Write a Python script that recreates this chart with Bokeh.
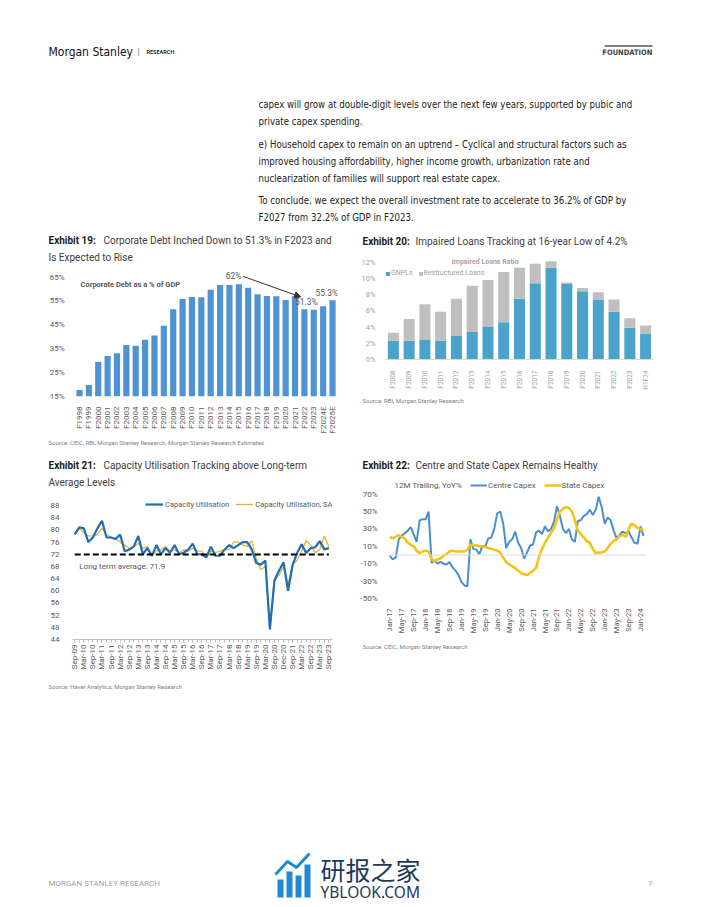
import numpy as np
from bokeh.plotting import figure
from bokeh.layouts import column, row
from bokeh.models import (Range1d, FixedTicker, Label, Span, Legend, LegendItem,
                          Arrow, NormalHead, ColumnDataSource)
from bokeh.core.properties import value
from bokeh.embed import file_html
from bokeh.resources import INLINE

# ---------------- Exhibit 19 data ----------------
debt_years = ["F1998", "F1999", "F2000", "F2001", "F2002", "F2003", "F2004", "F2005",
              "F2006", "F2007", "F2008", "F2009", "F2010", "F2011", "F2012", "F2013",
              "F2014", "F2015", "F2016", "F2017", "F2018", "F2019", "F2020", "F2021",
              "F2022", "F2023", "F2024E", "F2025E"]
debt_pct = [17.7, 19.8, 29.4, 32.0, 33.1, 36.6, 36.2, 38.8, 40.5, 44.6,
            51.5, 55.8, 56.7, 56.6, 59.7, 61.7, 61.7, 62.0, 60.5, 57.8,
            57.1, 57.0, 55.4, 57.0, 51.5, 51.3, 52.8, 55.3]
debt_yticks = [15, 25, 35, 45, 55, 65]
debt_ytick_labels = ["15%", "25%", "35%", "45%", "55%", "65%"]

# ---------------- Exhibit 20 data ----------------
npl_years = ["F2008", "F2009", "F2010", "F2011", "F2012", "F2013", "F2014", "F2015",
             "F2016", "F2017", "F2018", "F2019", "F2020", "F2021", "F2022", "F2023", "H1F24"]
gnpl_pct = [2.3, 2.3, 2.4, 2.3, 2.9, 3.4, 4.0, 4.6, 7.5, 9.4, 11.3, 9.3, 8.4, 7.4, 5.9, 3.9, 3.2]
restructured_pct = [1.0, 2.7, 4.4, 3.6, 4.6, 5.7, 5.8, 6.2, 3.8, 2.4, 0.8, 0.2, 0.4, 0.9, 1.5, 1.2, 1.0]
npl_yticks = [0, 2, 4, 6, 8, 10, 12]
npl_ytick_labels = ["0%", "2%", "4%", "6%", "8%", "10%", "12%"]

# ---------------- Exhibit 21 data (quarterly, Sep-09 .. Sep-23) ----------------
cu_tick_labels = ["Sep-09", "Mar-10", "Sep-10", "Mar-11", "Sep-11", "Mar-12", "Sep-12",
                  "Mar-13", "Sep-13", "Mar-14", "Sep-14", "Mar-15", "Sep-15", "Mar-16",
                  "Sep-16", "Mar-17", "Sep-17", "Mar-18", "Sep-18", "Mar-19", "Sep-19",
                  "Mar-20", "Sep-20", "Dec-20", "Sep-21", "Mar-22", "Sep-22", "Mar-23", "Sep-23"]
cu_util = [78.5, 80.8, 80.5, 76.0, 77.5, 80.5, 83.0, 77.5, 77.5, 77.0,
           78.5, 73.0, 73.5, 74.5, 78.0, 72.0, 74.0, 71.5, 75.0, 72.0,
           74.0, 72.5, 75.0, 72.0, 72.5, 73.5, 75.5, 72.0, 72.0, 71.0,
           74.5, 71.5, 71.5, 73.5, 75.0, 74.0, 75.0, 76.0, 76.0, 73.6,
           69.1, 68.6, 69.9, 47.3, 63.3, 66.6, 69.4, 60.0, 68.4, 72.4,
           75.3, 72.4, 74.0, 74.3, 76.3, 73.6, 74.0]
cu_util_sa = [78.5, 80.5, 79.0, 78.0, 78.0, 78.5, 80.5, 78.5, 77.5, 77.0,
              76.0, 75.0, 74.0, 74.5, 75.5, 74.0, 74.5, 71.5, 73.0, 73.5,
              74.5, 73.0, 73.5, 72.5, 73.5, 73.0, 74.0, 73.0, 73.0, 70.8,
              73.0, 72.5, 73.0, 73.5, 73.5, 76.0, 76.0, 75.0, 74.5, 76.5,
              70.5, 67.0, 68.0, 49.5, 64.0, 65.0, 68.0, 62.0, 68.5, 70.0,
              73.0, 76.5, 75.0, 72.5, 73.5, 78.0, 74.5]
cu_long_term_avg = 71.9
cu_yticks = [44, 48, 52, 56, 60, 64, 68, 72, 76, 80, 84, 88]

# ---------------- Exhibit 22 data (monthly, Jan-17 .. Feb-24) ----------------
capex_tick_labels = ["Jan-17", "May-17", "Sep-17", "Jan-18", "May-18", "Sep-18", "Jan-19",
                     "May-19", "Sep-19", "Jan-20", "May-20", "Sep-20", "Jan-21", "May-21",
                     "Sep-21", "Jan-22", "May-22", "Sep-22", "Jan-23", "May-23", "Sep-23", "Jan-24"]
centre_capex = [-1, -5, -3, 18, 22, 25, 28, 32, 24, 15,
                40, 41, 41, 50, -9, -6, -10, -8, -10, -11,
                -8, -14, -18, -23, -31, -35, -36, 18, 7, 6,
                1, 10, 10, 19, 20, 30, 48, 50, 36, 8,
                15, 18, 27, 14, 8, -4, 3, 11, 12, 26,
                28, 24, 33, 27, 30, 38, 56, 45, 30, 25,
                30, 18, 15, 39, 40, 45, 47, 52, 46, 52,
                67, 55, 36, 43, 40, 28, 19, 23, 27, 25,
                27, 20, 14, 13, 33, 22]
state_capex = [21, 19, 21, 23, 21, 19, 14, 12, 10, 5,
               2, 4, 5, 4, -5, -7, -5, -4, -1, 1,
               4, 5, 4, 4, 4, 4, 6, 12, 11, 11,
               10, 10, 9, 8, 7, 6, 5, 3, -3, -8,
               -11, -13, -15, -18, -21, -22, -23, -21, -18, -15,
               -2, 7, 14, 20, 25, 31, 41, 50, 53, 55,
               54, 50, 40, 28, 24, 20, 16, 14, 7, 2,
               3, 3, 4, 8, 13, 16, 18, 22, 23, 21,
               30, 36, 34, 31, 30, 28]
capex_yticks = [-50, -30, -10, 10, 30, 50, 70]
capex_ytick_labels = ["-50%", "-30%", "-10%", "10%", "30%", "50%", "70%"]

# ---------------- page texts ----------------
body_lines = [
    "capex will grow at double-digit levels over the next few years, supported by pubic and",
    "private capex spending.",
    "e) Household capex to remain on an uptrend \u2013 Cyclical and structural factors such as",
    "improved housing affordability, higher income growth, urbanization rate and",
    "nuclearization of families will support real estate capex.",
    "To conclude, we expect the overall investment rate to accelerate to 36.2% of GDP by",
    "F2027 from 32.2% of GDP in F2023.",
]
body_y = [104, 121, 144, 161, 178, 199.5, 216.5]

TXT = "#404040"
GRAY = "#595959"
SRC = "#808080"
BODY_FONT = "DejaVu Sans Condensed"


def geo(box, frame, xr, yr):
    return dict(box=box, frame=frame, xr=xr, yr=yr)


def chart(g):
    bx, by, bw, bh = g["box"]
    fl, ft, fr, fb = g["frame"]
    p = figure(width=bw, height=bh, x_range=Range1d(*g["xr"]), y_range=Range1d(*g["yr"]),
               output_backend="svg", toolbar_location=None, frame_align=False,
               min_border_left=fl - bx, min_border_right=bx + bw - fr,
               min_border_top=ft - by, min_border_bottom=by + bh - fb)
    p.outline_line_color = None
    p.grid.visible = False
    p.border_fill_color = "white"
    p.background_fill_color = "white"
    for ax in (p.xaxis[0], p.yaxis[0]):
        ax.axis_line_color = None
        ax.major_tick_line_color = None
        ax.minor_tick_line_color = None
        ax.major_label_text_font = "Roboto"
        ax.major_label_text_color = GRAY
    return p


def to_data(g, px, py):
    fl, ft, fr, fb = g["frame"]
    x0, x1 = g["xr"]
    y0, y1 = g["yr"]
    return (x0 + (px - fl) / (fr - fl) * (x1 - x0), y1 - (py - ft) / (fb - ft) * (y1 - y0))


def add_text(p, g, px, py, text, size, color=GRAY, style="normal", align="left", font="Roboto"):
    x, y = to_data(g, px, py)
    p.add_layout(Label(x=x, y=y, text=text, text_font=font, text_font_size=f"{size}px",
                       text_color=color, text_font_style=style, text_align=align,
                       text_baseline="middle"))


def band(box):
    """A blank strip of the page whose coordinates are page pixels."""
    bx, by, bw, bh = box
    p = figure(width=bw, height=bh, x_range=Range1d(bx, bx + bw), y_range=Range1d(by + bh, by),
               output_backend="svg", toolbar_location=None, min_border=0, frame_align=False,
               x_axis_location=None, y_axis_location=None)
    p.outline_line_color = None
    p.grid.visible = False
    p.border_fill_color = "white"
    p.background_fill_color = "white"
    g = geo(box, (bx, by, bx + bw, by + bh), (bx, bx + bw), (by + bh, by))
    return p, g


def title_band(box, px, py, num, text, text_x, second=None):
    p, g = band(box)
    add_text(p, g, px, py, f"Exhibit {num}:", 10, color="#1a1a1a", style="bold")
    add_text(p, g, text_x, py, text, 10, color=TXT)
    if second:
        add_text(p, g, px, py + 16.5, second, 10, color=TXT)
    return p


def source_band(box, px, py, text):
    p, g = band(box)
    add_text(p, g, px, py, text, 6, color=SRC)
    return p


# ================= Header =================
hdr, ghdr = band((0, 0, 702, 228))
hdr.text(x=[48], y=[51], text=["Morgan Stanley"], text_font=value(BODY_FONT),
         text_font_size=value("12px"), text_color="#111111", text_baseline="middle")
hdr.text(x=[137], y=[51], text=["|"], text_font=value("Roboto"),
         text_font_size=value("9px"), text_color="#777777", text_baseline="middle")
hdr.text(x=[146], y=[51.5], text=["RESEARCH"], text_font=value("Roboto"),
         text_font_size=value("5.5px"), text_font_style="bold", text_color="#333333",
         text_baseline="middle")
hdr.segment(x0=[604], y0=[45.5], x1=[652], y1=[45.5], line_color="#555555", line_width=1.5)
hdr.text(x=[652], y=[52], text=["FOUNDATION"], text_font=value(BODY_FONT),
         text_font_size=value("7.5px"), text_font_style="bold", text_color="#444444",
         text_baseline="middle", text_align="right")
body_src = ColumnDataSource(dict(x=[258] * len(body_lines), y=body_y, text=body_lines))
hdr.text(x="x", y="y", text="text", source=body_src, text_font=value(BODY_FONT),
         text_font_size=value("9.6px"), text_color="#222222", text_baseline="middle")

# ================= Exhibit 19 =================
t19 = title_band((0, 228, 352, 35), 48, 240, 19,
                 "Corporate Debt Inched Down to 51.3% in F2023 and", 103, "Is Expected to Rise")
g19 = geo((0, 263, 352, 173), (73, 263, 337, 400), (-0.64, 27.53), (15, 70.69))
p19 = chart(g19)
idx19 = list(range(len(debt_years)))
p19.vbar(x=idx19, top=debt_pct, bottom=15, width=0.66, fill_color="#4f93d2", line_color=None)
p19.xaxis.ticker = FixedTicker(ticks=idx19)
p19.xaxis.major_label_overrides = {i: debt_years[i] for i in idx19}
p19.xaxis.major_label_orientation = np.pi / 2
p19.xaxis.major_label_text_font_size = "8px"
p19.xaxis.major_label_standoff = 4
p19.yaxis.ticker = FixedTicker(ticks=debt_yticks)
p19.yaxis.major_label_overrides = dict(zip(debt_yticks, debt_ytick_labels))
p19.yaxis.major_label_text_font_size = "8px"
p19.yaxis.major_label_standoff = 3
add_text(p19, g19, 80, 284.5, "Corporate Debt as a % of GDP", 7.5, style="bold")
i_peak = int(np.argmax(debt_pct))
i_22 = debt_years.index("F2022")
i_23 = debt_years.index("F2023")
i_25 = debt_years.index("F2025E")
for xi, yi, dy, fmt in ((i_peak - 0.55, i_peak, 3.6, "{:.0f}%"),
                        (i_23 - 0.8, i_23, 3.4, "{:.1f}%"),
                        (i_25 - 0.6, i_25, 3.2, "{:.1f}%")):
    v = debt_pct[yi]
    p19.add_layout(Label(x=xi, y=v + dy, text=fmt.format(v), text_font="Roboto",
                         text_font_size="8.5px", text_color=GRAY, text_align="center",
                         text_baseline="middle"))
p19.add_layout(Arrow(end=NormalHead(size=6, fill_color="#333333", line_color="#333333"),
                     x_start=i_peak + 0.45, y_start=debt_pct[i_peak] + 3.3,
                     x_end=i_22 - 0.4, y_end=debt_pct[i_22] + 5.2,
                     line_color="#333333", line_width=1))
s19 = source_band((0, 436, 352, 16), 48, 441.5,
                  "Source: CEIC, RBI, Morgan Stanley Research, Morgan Stanley Research Estimates")

# ================= Exhibit 20 =================
t20 = title_band((352, 228, 350, 24), 362, 241, 20,
                 "Impaired Loans Tracking at 16-year Low of 4.2%", 415)
g20 = geo((352, 252, 350, 140), (385, 252, 653, 362), (-0.5, 16.5), (0, 13.19))
p20 = chart(g20)
idx20 = list(range(len(npl_years)))
src20 = ColumnDataSource(dict(x=idx20, gnpl=gnpl_pct, restr=restructured_pct))
rs20 = p20.vbar_stack(["gnpl", "restr"], x="x", width=0.7, source=src20,
                      fill_color=["#4ba3cb", "#bfbfbf"], line_color=None)
p20.xaxis.axis_line_color = "#d9d9d9"
p20.xaxis.ticker = FixedTicker(ticks=idx20)
p20.xaxis.major_label_overrides = {i: npl_years[i] for i in idx20}
p20.xaxis.major_label_orientation = np.pi / 2
p20.xaxis.major_label_text_font_size = "6.5px"
p20.xaxis.major_label_text_color = "#a0a0a0"
p20.xaxis.major_label_standoff = 5
p20.yaxis.ticker = FixedTicker(ticks=npl_yticks)
p20.yaxis.major_label_overrides = dict(zip(npl_yticks, npl_ytick_labels))
p20.yaxis.major_label_text_font_size = "7.5px"
p20.yaxis.major_label_text_color = "#a0a0a0"
p20.yaxis.major_label_standoff = 4
leg20 = Legend(items=[LegendItem(label="GNPLs", renderers=[rs20[0]]),
                      LegendItem(label="Restructured Loans", renderers=[rs20[1]])],
               orientation="horizontal", location=(0, 82), padding=0, margin=0, spacing=5,
               glyph_width=5, glyph_height=5, label_height=8, label_standoff=1,
               label_text_font="Roboto", label_text_font_size="7px", label_text_color="#a0a0a0",
               border_line_color=None, background_fill_alpha=0)
p20.add_layout(leg20)
add_text(p20, g20, 484.7, 262, "Impaired Loans Ratio", 7, color="#a6a6a6", style="bold", align="center")
s20 = source_band((352, 392, 350, 60), 362, 400, "Source: RBI, Morgan Stanley Research")

# ================= Exhibit 21 =================
t21 = title_band((0, 452, 352, 38), 48, 465, 21,
                 "Capacity Utilisation Tracking above Long-term", 103, "Average Levels")
g21 = geo((0, 490, 352, 186), (72, 490, 332, 639), (-0.5, 56.8), (44, 92.93))
p21 = chart(g21)
idx21 = list(range(len(cu_util)))
r_sa = p21.line(idx21, cu_util_sa, line_color="#e6b437", line_width=1.3)
r_cu = p21.line(idx21, cu_util, line_color="#1f6db4", line_width=2.2)
p21.line([idx21[0], idx21[-1]], [cu_long_term_avg, cu_long_term_avg], line_color="black",
         line_width=2, line_dash="6 3")
label_idx21 = idx21[::2]
p21.xaxis.ticker = FixedTicker(ticks=label_idx21, minor_ticks=idx21)
p21.xaxis.major_label_overrides = {i: lab for i, lab in zip(label_idx21, cu_tick_labels)}
p21.xaxis.major_label_orientation = np.pi / 2
p21.xaxis.major_label_text_font_size = "8px"
p21.xaxis.major_label_standoff = 2
p21.xaxis.axis_line_color = "#bfbfbf"
p21.xaxis.major_tick_line_color = "#bfbfbf"
p21.xaxis.minor_tick_line_color = "#bfbfbf"
p21.xaxis.major_tick_in = 0
p21.xaxis.major_tick_out = 3
p21.xaxis.minor_tick_in = 0
p21.xaxis.minor_tick_out = 3
p21.yaxis.ticker = FixedTicker(ticks=cu_yticks)
p21.yaxis.major_label_text_font_size = "8px"
p21.yaxis.major_label_standoff = 7
leg21 = Legend(items=[LegendItem(label="Capacity Utilisation", renderers=[r_cu]),
                      LegendItem(label="Capacity Utilisation, SA", renderers=[r_sa])],
               orientation="horizontal", location=(73, 130), padding=0, margin=0, spacing=6,
               glyph_width=18, glyph_height=10, label_height=10, label_standoff=2,
               label_text_font="Roboto", label_text_font_size="7.5px", label_text_color=GRAY,
               border_line_color=None, background_fill_alpha=0)
p21.add_layout(leg21)
p21.add_layout(Label(x=idx21[1], y=cu_long_term_avg - 3.9, text=f"Long term average: {cu_long_term_avg}",
                     text_font="Roboto", text_font_size="8px", text_color=GRAY,
                     text_baseline="middle"))
s21 = source_band((0, 676, 352, 24), 48, 685.5, "Source: Haver Analytics, Morgan Stanley Research")

# ================= Exhibit 22 =================
t22 = title_band((352, 452, 350, 24), 362, 465, 22, "Centre and State Capex Remains Healthy", 415)
g22 = geo((352, 476, 350, 160), (386, 476, 646, 601), (-1.1, 86), (-50, 90.24))
p22 = chart(g22)
idx22 = list(range(len(centre_capex)))
p22.add_layout(Span(location=0, dimension="width", line_color="#d9d9d9", line_width=1))
r_c = p22.line(idx22, centre_capex, line_color="#4a8fd0", line_width=2)
r_s = p22.line(idx22, state_capex, line_color="#f7c10f", line_width=2.5)
label_idx22 = idx22[::4][:len(capex_tick_labels)]
p22.xaxis.ticker = FixedTicker(ticks=label_idx22)
p22.xaxis.major_label_overrides = {i: lab for i, lab in zip(label_idx22, capex_tick_labels)}
p22.xaxis.major_label_orientation = np.pi / 2
p22.xaxis.major_label_text_font_size = "7.5px"
p22.xaxis.major_label_standoff = 4
p22.yaxis.ticker = FixedTicker(ticks=capex_yticks)
p22.yaxis.major_label_overrides = dict(zip(capex_yticks, capex_ytick_labels))
p22.yaxis.major_label_text_font_size = "8px"
p22.yaxis.major_label_standoff = 3
leg22 = Legend(items=[LegendItem(label="Centre Capex", renderers=[r_c]),
                      LegendItem(label="State Capex", renderers=[r_s])],
               orientation="horizontal", location=(84, 108), padding=0, margin=0, spacing=8,
               glyph_width=17, glyph_height=10, label_height=10, label_standoff=1,
               label_text_font="Roboto", label_text_font_size="8px", label_text_color=GRAY,
               border_line_color=None, background_fill_alpha=0)
p22.add_layout(leg22)
add_text(p22, g22, 394, 485, "12M Trailing, YoY%", 8, color=GRAY)
s22 = source_band((352, 636, 350, 64), 362, 645.5, "Source: CEIC, Morgan Stanley Research")

# ================= Footer =================
ftr, gftr = band((0, 700, 702, 207))
ftr.text(x=[48], y=[883], text=["MORGAN STANLEY RESEARCH"], text_font=value("Roboto"),
         text_font_size=value("8px"), text_color="#a0a0a0", text_baseline="middle")
ftr.text(x=[652], y=[883], text=["7"], text_font=value("Roboto"),
         text_font_size=value("8px"), text_color="#a0a0a0", text_baseline="middle",
         text_align="right")
ftr.quad(left=[277, 286, 295, 304], right=[283, 292, 301, 310], top=[879, 871, 875, 864],
         bottom=[897, 897, 897, 897], fill_color="#1f8ad2", line_color=None)
ftr.line(x=[275, 287, 296, 309], y=[874, 861, 867, 853], line_color="#1f8ad2", line_width=3)
ftr.text(x=[320], y=[868], text=["\u7814\u62a5\u4e4b\u5bb6"], text_font=value("Noto Sans CJK SC"),
         text_font_size=value("25px"), text_color="#1d3a5c", text_baseline="middle")
ftr.text(x=[320], y=[891], text=["YBLOOK.COM"], text_font=value("Noto Sans"),
         text_font_size=value("15.5px"), text_color="#1d3a5c", text_baseline="middle")

layout = column(
    hdr,
    row(column(t19, p19, s19), column(t20, p20, s20)),
    row(column(t21, p21, s21), column(t22, p22, s22)),
    ftr,
)
open("out.html", "w").write(file_html(layout, INLINE))
